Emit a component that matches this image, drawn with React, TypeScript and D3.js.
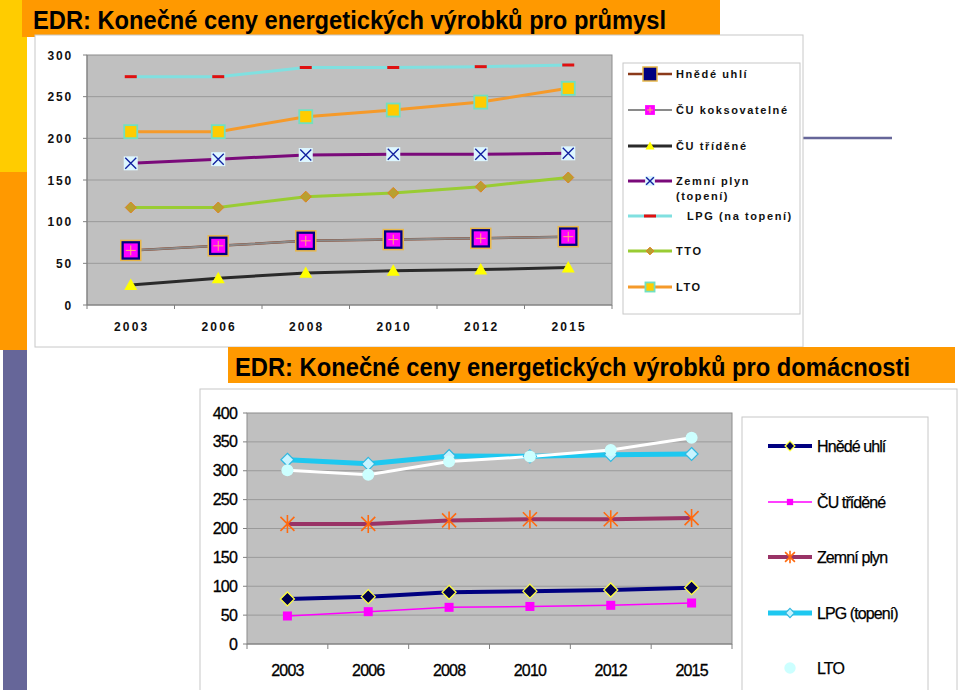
import React from "react";
import * as d3 from "d3";

// ---------- data ----------
const years = ["2003", "2006", "2008", "2010", "2012", "2015"];

// industry (top chart)
const indTitle = "EDR: Konečné ceny energetických výrobků pro průmysl";
const indTicks = [0, 50, 100, 150, 200, 250, 300];
const indHnede = [65.5, 71, 77, 78.5, 80, 82];
const indKoks = [65.5, 71, 77, 78.5, 80, 82];
const indTridene = [24, 32, 38.5, 41, 42.5, 45];
const indZemni = [170, 175, 180, 181, 181, 182];
const indLpg = [274, 274, 285, 285, 286, 288];
const indTto = [117, 117, 130, 134.5, 142, 153];
const indLto = [208, 208, 226, 234, 243.5, 260];

// households (bottom chart)
const domTitle = "EDR: Konečné ceny energetických výrobků pro domácnosti";
const domTicks = [0, 50, 100, 150, 200, 250, 300, 350, 400];
const domHnede = [78, 82, 89.5, 91.5, 93.5, 97.5];
const domTridene = [48.5, 56, 63.5, 65, 67, 71];
const domZemni = [208, 208, 214, 216, 216, 218];
const domLpg = [319, 312, 325.5, 325, 327.5, 329];
const domLto = [301, 293, 316, 324.5, 336, 357];

type Marker =
  | "navySquare"
  | "magentaPlus"
  | "triangle"
  | "xbox"
  | "dash"
  | "oliveDiamond"
  | "yellowSquare"
  | "navyDiamond"
  | "smallSquare"
  | "asterisk"
  | "cyanDiamond"
  | "circle";

interface Series {
  name: string;
  name2?: string;
  values: number[];
  color: string;
  width: number;
  marker: Marker;
  legendNoLine?: boolean;
  legendDx?: number;
}

const indSeries: Series[] = [
  { name: "Hnědé uhlí", values: indHnede, color: "#8B3A1A", width: 2.5, marker: "navySquare" },
  { name: "ČU koksovatelné", values: indKoks, color: "#8A8A8A", width: 2, marker: "magentaPlus" },
  { name: "ČU tříděné", values: indTridene, color: "#2A2A2A", width: 3, marker: "triangle" },
  { name: "Zemní plyn", name2: "(topení)", values: indZemni, color: "#7A0A7A", width: 3, marker: "xbox" },
  { name: "LPG (na topení)", values: indLpg, color: "#80E0E0", width: 3, marker: "dash", legendDx: 11 },
  { name: "TTO", values: indTto, color: "#99CC33", width: 3, marker: "oliveDiamond" },
  { name: "LTO", values: indLto, color: "#F59A2A", width: 3, marker: "yellowSquare" },
];

const domSeries: Series[] = [
  { name: "Hnědé uhlí", values: domHnede, color: "#000080", width: 4, marker: "navyDiamond" },
  { name: "ČU tříděné", values: domTridene, color: "#FF00FF", width: 1.5, marker: "smallSquare" },
  { name: "Zemní plyn", values: domZemni, color: "#993366", width: 4, marker: "asterisk" },
  { name: "LPG (topení)", values: domLpg, color: "#1EC8F0", width: 5, marker: "cyanDiamond" },
  { name: "LTO", values: domLto, color: "#FFFFFF", width: 3, marker: "circle", legendNoLine: true },
];

function drawMarker(m: Marker, x: number, y: number, legend = false, key?: string) {
  const s = legend ? 0.7 : 1;
  switch (m) {
    case "navySquare": {
      const h = 10 * s;
      return (
        <rect key={key} x={x - h} y={y - h} width={2 * h} height={2 * h} fill="#000080" stroke="#E8B84A" strokeWidth={1.5} />
      );
    }
    case "magentaPlus": {
      const h = 7 * s;
      return (
        <g key={key}>
          <rect x={x - h} y={y - h} width={2 * h} height={2 * h} fill="#FF00FF" />
          <line x1={x - h + 2} x2={x + h - 2} y1={y} y2={y} stroke="#FFB070" strokeWidth={1} />
          <line x1={x} x2={x} y1={y - h + 2} y2={y + h - 2} stroke="#FFB070" strokeWidth={1} />
        </g>
      );
    }
    case "triangle": {
      const h = 6.5 * s;
      return (
        <path key={key} d={`M${x},${y - h}L${x + h},${y + h * 0.75}L${x - h},${y + h * 0.75}Z`} fill="#FFFF00" />
      );
    }
    case "xbox": {
      const h = 7 * s;
      const k = 5.5 * s;
      return (
        <g key={key}>
          <rect x={x - h} y={y - h} width={2 * h} height={2 * h} fill="#DDF6FF" />
          <path d={`M${x - k},${y - k}L${x + k},${y + k}M${x - k},${y + k}L${x + k},${y - k}`} stroke="#1020A0" strokeWidth={1.4} />
        </g>
      );
    }
    case "dash":
      return <rect key={key} x={x - 6} y={y - 1.5} width={12} height={3} fill="#E01010" />;
    case "oliveDiamond": {
      const h = 5.5 * s;
      return (
        <path key={key} d={`M${x},${y - h}L${x + h},${y}L${x},${y + h}L${x - h},${y}Z`} fill="#B8A030" stroke="#E08020" strokeWidth={1} />
      );
    }
    case "yellowSquare": {
      const h = 6.5 * s;
      return (
        <rect key={key} x={x - h} y={y - h} width={2 * h} height={2 * h} fill="#FFCC00" stroke="#70E0C0" strokeWidth={1.8} />
      );
    }
    case "navyDiamond": {
      const h = 7 * s;
      return (
        <path key={key} d={`M${x},${y - h}L${x + h},${y}L${x},${y + h}L${x - h},${y}Z`} fill="#000050" stroke="#FFFF40" strokeWidth={1.3} />
      );
    }
    case "smallSquare": {
      const h = 4.5 * s;
      return <rect key={key} x={x - h} y={y - h} width={2 * h} height={2 * h} fill="#FF00FF" />;
    }
    case "asterisk": {
      const h = 9 * s;
      const k = 7 * s;
      return (
        <path
          key={key}
          d={`M${x},${y - h}L${x},${y + h}M${x - k},${y - k}L${x + k},${y + k}M${x - k},${y + k}L${x + k},${y - k}`}
          stroke="#FF6A10"
          strokeWidth={1.6}
        />
      );
    }
    case "cyanDiamond": {
      const h = 6.5 * s;
      return (
        <path key={key} d={`M${x},${y - h}L${x + h},${y}L${x},${y + h}L${x - h},${y}Z`} fill="#C8F4FF" stroke="#30B8E0" strokeWidth={1.2} />
      );
    }
    case "circle":
      return <circle key={key} cx={x} cy={y} r={6 * s + (legend ? 1.5 : 0)} fill="#CCFFFF" />;
  }
}

const topFont = "'Liberation Sans', Arial, sans-serif";

function TopChart() {
  const x0 = 87, x1 = 612, y0 = 55, y1 = 305;
  const xs = d3.scaleBand<string>().domain(years).range([x0, x1]).padding(0);
  const ys = d3.scaleLinear().domain([0, 300]).range([y1, y0]);
  const cx = (i: number) => (xs(years[i]) as number) + xs.bandwidth() / 2;
  const line = d3
    .line<number>()
    .x((_, i) => cx(i))
    .y((d) => ys(d));
  const boundaries = years.map((y) => xs(y) as number).concat([x1]);
  return (
    <g fontFamily={topFont}>
      <rect x={x0} y={y0} width={x1 - x0} height={y1 - y0} fill="#C0C0C0" stroke="#8C8C8C" strokeWidth={1} />
      {indTicks.map((t) => (
        <g key={t}>
          {t > 0 && t < 300 && <line x1={x0} x2={x1} y1={ys(t)} y2={ys(t)} stroke="#9A9A9A" strokeWidth={1} />}
          <line x1={x0 - 4} x2={x0} y1={ys(t)} y2={ys(t)} stroke="#808080" />
          <text x={73} y={ys(t) + 4.5} textAnchor="end" fontSize={12} fontWeight="bold" letterSpacing={1.8} fill="#111">
            {t}
          </text>
        </g>
      ))}
      <line x1={x0} x2={x1} y1={y1} y2={y1} stroke="#808080" strokeWidth={1} />
      <line x1={x0} x2={x0} y1={y0} y2={y1} stroke="#808080" strokeWidth={1} />
      {boundaries.map((b, i) => (
        <line key={i} x1={b} x2={b} y1={y1} y2={y1 + 4} stroke="#808080" />
      ))}
      {years.map((yr, i) => (
        <text key={yr} x={cx(i) + 1} y={331} textAnchor="middle" fontSize={12} fontWeight="bold" letterSpacing={2.2} fill="#111">
          {yr}
        </text>
      ))}
      {indSeries.map((s) => (
        <path key={s.name} d={line(s.values) || ""} fill="none" stroke={s.color} strokeWidth={s.width} />
      ))}
      {indSeries.map((s) => (
        <g key={s.name + "m"}>{s.values.map((v, i) => drawMarker(s.marker, cx(i), ys(v), false, String(i)))}</g>
      ))}
      {/* legend */}
      <rect x={623} y={63} width={177} height={251} fill="#FFFFFF" stroke="#C8C8C8" strokeWidth={1} />
      {indSeries.map((s, i) => {
        const ly = [74, 110, 146, 181, 216, 251, 287][i];
        return (
          <g key={s.name + "l"}>
            <line x1={628} x2={672} y1={ly} y2={ly} stroke={s.color} strokeWidth={s.width} />
            {drawMarker(s.marker, 650, ly, true)}
            <text x={676 + (s.legendDx || 0)} y={ly + 4} fontSize={11} fontWeight="bold" letterSpacing={1.6} fill="#111">
              {s.name}
            </text>
            {s.name2 && (
              <text x={676} y={ly + 19} fontSize={11} fontWeight="bold" letterSpacing={1.6} fill="#111">
                {s.name2}
              </text>
            )}
          </g>
        );
      })}
    </g>
  );
}

function BottomChart() {
  const x0 = 247, x1 = 732, y0 = 413, y1 = 644;
  const xs = d3.scaleBand<string>().domain(years).range([x0, x1]).padding(0);
  const ys = d3.scaleLinear().domain([0, 400]).range([y1, y0]);
  const cx = (i: number) => (xs(years[i]) as number) + xs.bandwidth() / 2;
  const line = d3
    .line<number>()
    .x((_, i) => cx(i))
    .y((d) => ys(d));
  const boundaries = years.map((y) => xs(y) as number).concat([x1]);
  const legendY = [446, 502, 557, 613, 668];
  return (
    <g fontFamily={topFont}>
      <rect x={x0} y={y0} width={x1 - x0} height={y1 - y0} fill="#C0C0C0" stroke="#8C8C8C" strokeWidth={1} />
      {domTicks.map((t) => (
        <g key={t}>
          {t > 0 && t < 400 && <line x1={x0} x2={x1} y1={ys(t)} y2={ys(t)} stroke="#9A9A9A" strokeWidth={1} />}
          <line x1={x0 - 4} x2={x0} y1={ys(t)} y2={ys(t)} stroke="#808080" />
          <text x={237} y={ys(t) + 5.5} textAnchor="end" fontSize={16} letterSpacing={-0.8} fill="#000" stroke="#000" strokeWidth={0.3}>
            {t}
          </text>
        </g>
      ))}
      <line x1={x0} x2={x1} y1={y1} y2={y1} stroke="#808080" strokeWidth={1} />
      {boundaries.map((b, i) => (
        <line key={i} x1={b} x2={b} y1={y1} y2={y1 + 5} stroke="#808080" />
      ))}
      {years.map((yr, i) => (
        <text key={yr} x={cx(i)} y={676} textAnchor="middle" fontSize={16} letterSpacing={-0.8} fill="#000" stroke="#000" strokeWidth={0.3}>
          {yr}
        </text>
      ))}
      {domSeries.map((s) => (
        <path key={s.name} d={line(s.values) || ""} fill="none" stroke={s.color} strokeWidth={s.width} />
      ))}
      {domSeries.map((s) => (
        <g key={s.name + "m"}>{s.values.map((v, i) => drawMarker(s.marker, cx(i), ys(v), false, String(i)))}</g>
      ))}
      {/* legend */}
      <rect x={742} y={417} width={186} height={290} fill="#FFFFFF" stroke="#C8C8C8" strokeWidth={1} />
      {domSeries.map((s, i) => {
        const ly = legendY[i];
        return (
          <g key={s.name + "l"}>
            {!s.legendNoLine && <line x1={768} x2={812} y1={ly} y2={ly} stroke={s.color} strokeWidth={s.width} />}
            {drawMarker(s.marker, 790, ly, true)}
            <text x={817} y={ly + 5.5} fontSize={16} letterSpacing={-0.9} fill="#000" stroke="#000" strokeWidth={0.25}>
              {s.name}
            </text>
          </g>
        );
      })}
    </g>
  );
}

export default function App() {
  return (
    <svg
      width={960}
      height={690}
      viewBox="0 0 960 690"
      style={{ position: "absolute", left: 0, top: 0, background: "#FFFFFF" }}
    >
      <rect x={0} y={0} width={960} height={690} fill="#FFFFFF" />
      {/* left decorative strip */}
      <rect x={0} y={0} width={27} height={172} fill="#FFCC00" />
      <rect x={0} y={172} width={27} height={178} fill="#FF9900" />
      <rect x={3} y={350} width={24} height={340} fill="#666699" />
      {/* top title bar */}
      <rect x={22} y={0} width={698} height={37} fill="#FF9900" />
      <text x={33} y={29} fontFamily={topFont} fontSize={25} fontWeight="bold" fill="#000" textLength={633} lengthAdjust="spacingAndGlyphs">
        {indTitle}
      </text>
      {/* decorative line right of top chart */}
      <line x1={803} x2={892} y1={138} y2={138} stroke="#666699" strokeWidth={2.5} />
      {/* top chart box */}
      <rect x={35} y={35} width={768} height={312} fill="#FFFFFF" stroke="#C8C8C8" strokeWidth={1} />
      <TopChart />
      {/* bottom title bar (drawn above the top box's lower edge) */}
      <rect x={228} y={347} width={727} height={36} fill="#FF9900" />
      <text x={235} y={376} fontFamily={topFont} fontSize={25} fontWeight="bold" fill="#000" textLength={675} lengthAdjust="spacingAndGlyphs">
        {domTitle}
      </text>
      {/* bottom chart box */}
      <rect x={200} y={389} width={757} height={320} fill="#FFFFFF" stroke="#C8C8C8" strokeWidth={1} />
      <BottomChart />
    </svg>
  );
}
